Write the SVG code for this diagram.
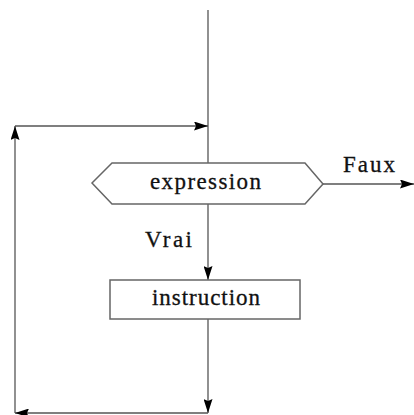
<svg xmlns="http://www.w3.org/2000/svg" width="414" height="415" viewBox="0 0 414 415">
<defs>
<marker id="ah" viewBox="0 0 14 9" refX="14" refY="4.5" markerWidth="14" markerHeight="9" markerUnits="userSpaceOnUse" orient="auto">
<path d="M0,0 L14,4.5 L0,9 L2,4.5 Z" fill="#000"/>
</marker>
</defs>
<style>
.ln{stroke:#555;stroke-width:1.3;fill:none}
.sh{stroke:#666;stroke-width:1.5;fill:#fff}
.tx{font-family:"Liberation Serif",serif;font-size:23px;fill:#111;stroke:#111;stroke-width:0.3}
</style>
<rect width="414" height="415" fill="#fff"/>
<g id="connectors">
<line class="ln" x1="208" y1="10" x2="208" y2="163"/>
<line class="ln" x1="15" y1="126" x2="208" y2="126" marker-end="url(#ah)"/>
<line class="ln" x1="15" y1="413" x2="15" y2="126" marker-end="url(#ah)"/>
<line class="ln" x1="208" y1="204" x2="208" y2="280" marker-end="url(#ah)"/>
<line class="ln" x1="323" y1="184" x2="414" y2="184" marker-end="url(#ah)"/>
<line class="ln" x1="208" y1="319" x2="208" y2="413" marker-end="url(#ah)"/>
<line class="ln" x1="208" y1="413" x2="15" y2="413" marker-end="url(#ah)"/>
</g>
<g id="expression">
<polygon class="sh" points="92,183 112,163 305,163 323,184 305,204 112,204"/>
<text class="tx" x="150" y="189" textLength="111" lengthAdjust="spacing">expression</text>
</g>
<g id="instruction">
<rect class="sh" x="110" y="280" width="190" height="39"/>
<text class="tx" x="152" y="305" textLength="108" lengthAdjust="spacing">instruction</text>
</g>
<g id="labels">
<text class="tx" x="343" y="172" textLength="52" lengthAdjust="spacing">Faux</text>
<text class="tx" x="145" y="247" textLength="47" lengthAdjust="spacing">Vrai</text>
</g>
</svg>
